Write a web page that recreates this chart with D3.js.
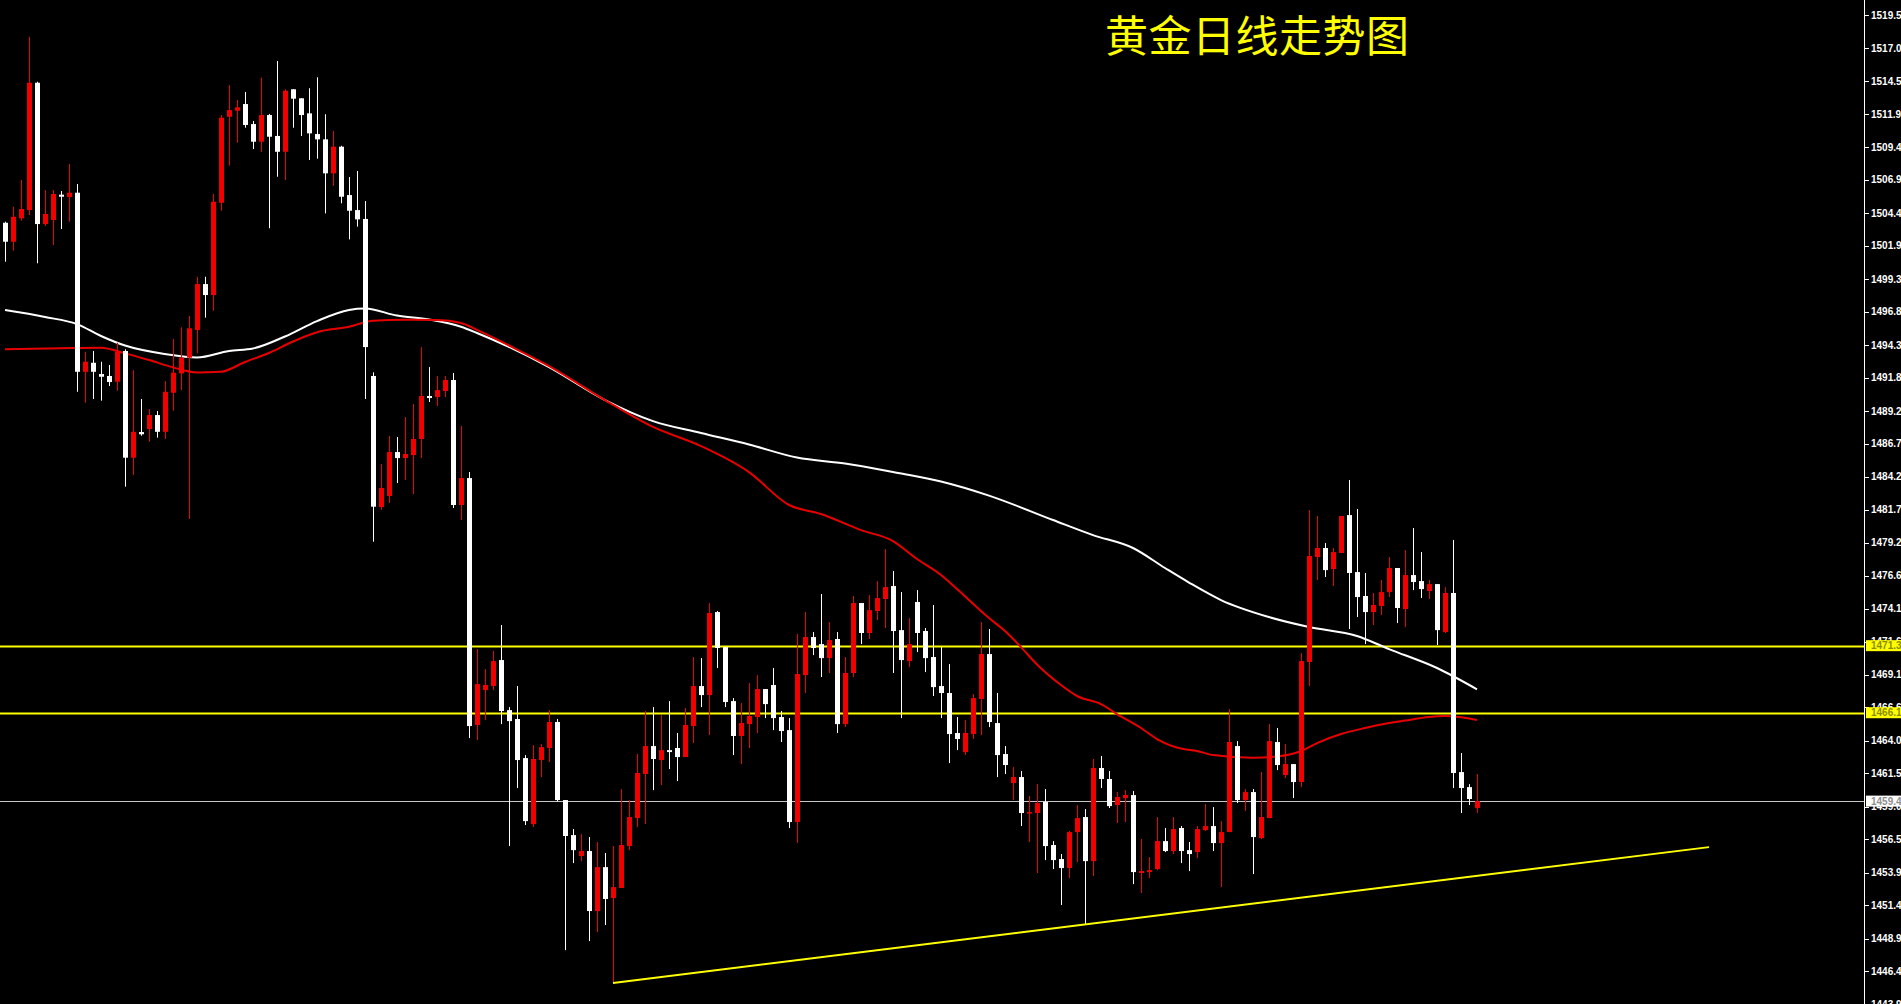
<!DOCTYPE html>
<html>
<head>
<meta charset="utf-8">
<script src="https://cdn.jsdelivr.net/npm/d3@7"></script>
<style>
  html, body { margin: 0; padding: 0; background: #000; overflow: hidden; }
  svg { display: block; }
</style>
</head>
<body>
<svg id="chart"></svg>
<script>
// daily gold candles, oldest first
const opens = [1503.66,1502.21,1504.00,1504.63,1514.37,1503.56,1503.87,1505.81,1505.63,1505.96,
  1492.26,1492.95,1492.09,1491.94,1491.50,1493.85,1485.69,1487.65,1487.88,1488.95,
  1487.67,1490.66,1492.14,1493.34,1495.45,1498.97,1498.13,1505.19,1511.77,1512.23,
  1512.74,1511.21,1509.86,1511.90,1510.30,1509.09,1513.87,1513.18,1512.03,1510.45,
  1510.04,1507.44,1509.48,1505.78,1504.63,1503.95,1491.94,1481.91,1482.76,1486.12,
  1485.66,1485.89,1487.12,1490.41,1490.33,1490.79,1491.63,1482.07,1484.13,1465.24,
  1467.91,1468.22,1470.21,1466.38,1465.70,1462.71,1457.66,1462.56,1463.48,1465.47,
  1459.50,1456.82,1455.22,1455.60,1451.01,1454.37,1452.00,1452.77,1455.98,1458.12,
  1461.49,1463.63,1462.56,1463.32,1463.48,1462.79,1465.16,1468.22,1467.53,1473.88,
  1471.20,1467.07,1464.40,1465.31,1465.85,1467.99,1468.30,1465.85,1464.85,1457.82,
  1469.06,1471.97,1471.43,1470.36,1471.82,1465.31,1469.22,1474.57,1472.28,1473.96,
  1474.88,1475.87,1472.50,1470.13,1474.65,1472.43,1470.44,1468.22,1467.69,1464.63,
  1463.17,1464.55,1467.23,1470.67,1465.39,1463.02,1460.80,1461.26,1458.51,1458.51,
  1459.35,1456.06,1454.99,1454.30,1457.05,1458.20,1454.83,1461.95,1461.11,1459.12,
  1459.65,1459.88,1453.92,1453.99,1454.22,1456.36,1455.60,1457.36,1455.67,1455.52,
  1457.20,1457.51,1456.21,1457.05,1463.63,1459.50,1460.11,1456.59,1458.12,1463.94,
  1461.41,1462.25,1460.88,1470.06,1478.09,1478.78,1477.17,1478.40,1481.30,1476.94,
  1475.11,1473.88,1474.34,1475.41,1477.25,1474.11,1476.71,1476.25,1475.49,1476.02,
  1472.35,1475.34,1461.64,1460.49,1458.89];
const highs = [1503.74,1504.89,1506.93,1517.89,1514.45,1506.16,1506.16,1506.09,1508.15,1506.62,
  1493.79,1493.85,1493.03,1492.78,1494.48,1493.98,1492.39,1490.18,1489.41,1489.26,
  1491.55,1494.77,1495.66,1496.53,1499.53,1499.53,1505.86,1511.90,1514.20,1513.05,
  1513.66,1511.44,1514.76,1511.98,1516.03,1513.87,1513.89,1513.18,1513.95,1514.79,
  1511.96,1510.68,1509.55,1507.16,1507.62,1505.32,1492.22,1485.20,1487.35,1487.27,
  1488.80,1489.79,1494.15,1492.62,1491.94,1491.94,1492.17,1488.11,1484.59,1471.05,
  1469.52,1470.90,1472.89,1466.61,1468.22,1462.94,1463.71,1463.78,1466.38,1465.70,
  1459.50,1457.28,1456.90,1456.67,1456.29,1455.45,1455.98,1460.34,1459.50,1463.02,
  1466.31,1466.61,1466.00,1467.07,1464.63,1466.54,1470.44,1470.36,1474.57,1473.96,
  1471.20,1467.30,1466.92,1468.45,1469.06,1467.99,1469.60,1466.31,1465.77,1472.20,
  1473.88,1472.35,1475.26,1473.12,1472.35,1470.44,1475.11,1474.57,1475.18,1476.25,
  1478.70,1477.02,1475.41,1473.42,1475.56,1472.66,1474.42,1471.20,1469.90,1465.85,
  1465.62,1467.61,1473.12,1472.58,1467.69,1463.63,1462.02,1461.72,1459.81,1460.72,
  1460.34,1456.36,1455.37,1457.13,1459.12,1458.81,1462.64,1462.87,1461.72,1460.11,
  1460.26,1460.19,1456.52,1455.14,1458.20,1457.36,1458.20,1457.51,1456.29,1457.51,
  1459.19,1458.96,1457.89,1466.46,1464.01,1460.34,1460.34,1461.64,1465.31,1465.01,
  1463.78,1462.25,1470.75,1481.68,1481.23,1479.16,1478.78,1481.23,1483.98,1481.76,
  1476.87,1475.34,1476.33,1478.09,1477.25,1478.62,1480.31,1478.47,1476.33,1476.02,
  1475.79,1479.39,1463.10,1460.72,1461.49];
const lows = [1500.68,1501.52,1503.82,1504.25,1500.56,1503.41,1501.96,1503.18,1503.74,1490.73,
  1489.89,1490.18,1490.05,1491.17,1490.81,1483.47,1484.36,1487.37,1486.91,1487.22,
  1487.12,1489.28,1490.86,1481.00,1493.67,1496.40,1496.93,1504.58,1508.02,1509.78,
  1510.93,1509.30,1509.09,1503.24,1507.18,1506.93,1510.93,1510.30,1508.46,1508.56,
  1504.38,1506.49,1505.15,1502.39,1503.36,1490.18,1479.26,1481.70,1482.22,1483.75,
  1483.98,1482.91,1485.66,1489.95,1489.64,1490.33,1481.84,1480.92,1464.24,1464.09,
  1465.62,1467.91,1465.31,1455.98,1460.42,1457.59,1457.43,1461.26,1462.41,1459.42,
  1448.02,1454.68,1454.83,1448.71,1449.40,1449.94,1445.50,1452.77,1455.67,1457.43,
  1457.66,1460.26,1460.65,1461.87,1460.95,1462.79,1463.86,1466.61,1464.47,1469.60,
  1466.61,1462.94,1462.25,1463.48,1464.63,1465.77,1464.85,1463.94,1457.36,1456.21,
  1467.69,1470.59,1468.91,1469.22,1464.63,1465.08,1468.91,1471.43,1471.82,1473.27,
  1472.66,1469.22,1465.77,1469.67,1470.82,1469.29,1467.46,1465.77,1462.33,1463.32,
  1462.94,1464.17,1464.47,1465.08,1461.26,1461.49,1459.50,1457.51,1456.29,1453.92,
  1454.91,1454.22,1451.47,1453.53,1454.76,1450.01,1453.69,1460.42,1458.89,1457.74,
  1457.82,1453.07,1452.39,1453.53,1454.14,1455.52,1455.37,1454.68,1454.07,1455.06,
  1457.13,1455.60,1452.84,1457.05,1459.27,1458.66,1453.84,1456.52,1458.12,1461.79,
  1461.18,1459.65,1460.49,1468.22,1476.33,1476.56,1475.87,1478.40,1472.58,1473.50,
  1471.43,1472.89,1473.65,1475.03,1473.04,1472.73,1475.56,1474.95,1474.88,1471.36,
  1472.28,1460.42,1458.51,1459.12,1458.51];
const closes = [1502.21,1504.12,1504.71,1514.37,1503.56,1504.33,1505.86,1505.65,1505.96,1492.26,
  1493.03,1492.26,1491.88,1491.48,1493.79,1485.69,1487.67,1487.48,1488.95,1487.67,
  1490.73,1492.19,1493.34,1495.59,1498.97,1498.13,1505.27,1511.70,1512.28,1512.49,
  1511.14,1509.86,1511.90,1510.24,1509.09,1513.76,1513.15,1511.90,1510.50,1510.04,
  1507.44,1509.48,1505.65,1504.58,1503.92,1494.15,1481.94,1483.37,1486.12,1485.66,
  1485.97,1487.12,1490.41,1490.25,1490.86,1491.63,1482.07,1484.13,1465.16,1468.37,
  1468.30,1470.13,1466.31,1465.54,1462.56,1457.89,1462.64,1463.55,1465.47,1459.50,
  1456.75,1455.67,1455.60,1451.01,1454.37,1451.93,1452.84,1456.06,1458.20,1461.57,
  1463.63,1462.64,1463.32,1463.17,1462.79,1465.24,1468.22,1467.53,1473.81,1471.13,
  1467.00,1464.40,1465.39,1465.93,1467.99,1466.84,1465.77,1464.78,1457.82,1469.14,
  1471.97,1471.13,1470.36,1471.74,1465.31,1469.22,1474.57,1472.28,1474.03,1474.95,
  1475.79,1472.43,1470.21,1471.43,1472.28,1470.36,1468.14,1467.69,1464.55,1464.17,
  1464.63,1467.30,1470.67,1465.47,1462.94,1462.18,1461.26,1458.51,1458.58,1459.27,
  1455.98,1454.91,1454.30,1457.05,1458.12,1454.83,1461.95,1461.11,1459.04,1459.73,
  1459.88,1453.99,1454.07,1454.14,1456.36,1455.60,1457.28,1455.60,1455.37,1457.28,
  1457.51,1456.21,1457.05,1463.94,1459.50,1460.11,1456.67,1458.20,1464.01,1462.18,
  1462.25,1460.88,1470.13,1478.17,1478.78,1477.09,1478.47,1481.23,1476.87,1475.03,
  1473.88,1474.42,1475.41,1477.25,1474.19,1476.71,1476.18,1475.64,1476.02,1472.50,
  1475.34,1461.57,1460.42,1459.58,1459.42];

// moving averages, read at a few bars and joined by a smooth line
const whiteMaBars = [0,5,9,12,15,20,24,28,31,35,39,43,45,49,53,57,59,68,75,81,
  87,93,99,105,111,117,123,131,136,141,145,148,152,158,163,169,173,179,184];
const whiteMa = [1496.98,1496.45,1495.91,1495.00,1494.27,1493.62,1493.35,1493.85,1494.04,1494.96,
  1496.14,1496.99,1497.10,1496.56,1496.26,1495.71,1495.23,1492.62,1490.10,1488.49,
  1487.58,1486.70,1485.70,1485.24,1484.59,1483.87,1482.79,1480.92,1479.77,1478.78,
  1477.25,1476.14,1474.80,1473.50,1472.74,1472.05,1471.05,1469.60,1467.97];
const redMaBars = [0,7,12,15,18,21,24,27,30,33,36,39,43,46,50,54,57,59,63,68,
  75,81,87,93,98,102,107,111,114,117,119,123,125,127,129,132,134,137,139,142,
  144,147,149,151,156,159,162,164,167,170,173,175,178,180,182,184];
const redMa = [1493.98,1494.06,1494.10,1493.67,1493.16,1492.60,1492.20,1492.26,1493.01,1493.70,
  1494.58,1495.29,1495.71,1496.17,1496.24,1496.22,1495.99,1495.46,1494.27,1492.70,
  1490.10,1488.04,1486.58,1484.59,1482.07,1481.38,1480.15,1479.31,1477.94,1476.71,
  1475.64,1473.42,1472.43,1471.20,1469.87,1468.30,1467.46,1466.84,1466.08,1465.01,
  1464.17,1463.44,1463.25,1462.94,1462.74,1462.83,1463.25,1463.86,1464.55,1465.01,
  1465.39,1465.58,1465.85,1465.93,1465.83,1465.62];

// price axis labels
const tickValues = [1519.55,1517.00,1514.50,1511.95,1509.45,1506.95,1504.40,1501.90,1499.35,1496.85,
  1494.30,1491.80,1489.25,1486.75,1484.25,1481.70,1479.20,1476.65,1474.15,1471.60,
  1469.10,1466.60,1464.05,1461.55,1459.00,1456.50,1453.95,1451.45,1448.90,1446.40,1443.90];

const levelLines = [1471.31, 1466.18];
const lastPrice = 1459.42;
const trendBars = [76, 213];
const trendPrices = [1445.50, 1455.90];

const titleText = "黄金日线走势图";

const width = 1901, height = 1004;
const axisX = 1864;

const svg = d3.select("#chart").attr("width", width).attr("height", height);
svg.append("rect").attr("width", width).attr("height", height).attr("fill", "#000");

const x = d3.scaleLinear().domain([0, 184]).range([5, 1477]);
const y = d3.scaleLinear().domain([1443.90, 1520.70]).range([height, 0]);

const candles = opens.map((o, i) => ({i: i, o: o, h: highs[i], l: lows[i], c: closes[i]}));
const colorOf = d => d.c > d.o ? "#f20000" : "#ffffff";

let plot = svg.append("g").attr("id", "plot");

// level lines
plot.selectAll("line.level").data(levelLines)
    .join("line")
    .attr("class", "level")
    .attr("x1", 0).attr("x2", axisX)
    .attr("y1", d => Math.round(y(d)) + 0.5).attr("y2", d => Math.round(y(d)) + 0.5)
    .attr("stroke", "#ffff00").attr("stroke-width", 2);

plot.append("line")
    .attr("x1", 0).attr("x2", axisX)
    .attr("y1", Math.round(y(lastPrice)) + 0.5).attr("y2", Math.round(y(lastPrice)) + 0.5)
    .attr("stroke", "#c8c8c8").attr("stroke-width", 1);

// moving averages
const maLine = d3.line().curve(d3.curveMonotoneX);
plot.append("path")
    .attr("d", maLine(whiteMaBars.map((b, k) => [x(b), y(whiteMa[k])])))
    .attr("fill", "none").attr("stroke", "#ffffff").attr("stroke-width", 2);
plot.append("path")
    .attr("d", maLine(redMaBars.map((b, k) => [x(b), y(redMa[k])])))
    .attr("fill", "none").attr("stroke", "#e80000").attr("stroke-width", 2);

// candles
let bars = plot.selectAll("g.candle").data(candles).join("g").attr("class", "candle");
bars.append("line")
    .attr("x1", d => Math.round(x(d.i)) + 0.5).attr("x2", d => Math.round(x(d.i)) + 0.5)
    .attr("y1", d => y(d.h)).attr("y2", d => y(d.l))
    .attr("stroke", colorOf).attr("stroke-width", 1);
bars.append("rect")
    .attr("x", d => Math.round(x(d.i)) - 2)
    .attr("width", 5)
    .attr("y", d => y(Math.max(d.o, d.c)))
    .attr("height", d => Math.max(1.5, Math.abs(y(d.o) - y(d.c))))
    .attr("fill", colorOf);

// trend line
plot.append("line")
    .attr("x1", x(trendBars[0])).attr("y1", y(trendPrices[0]))
    .attr("x2", x(trendBars[1])).attr("y2", y(trendPrices[1]))
    .attr("stroke", "#ffff00").attr("stroke-width", 2);

// price axis
let axisG = svg.append("g").attr("id", "priceAxis");
axisG.append("rect").attr("x", axisX + 1).attr("y", 0).attr("width", width - axisX).attr("height", height).attr("fill", "#000");
axisG.append("line")
    .attr("x1", axisX + 0.5).attr("x2", axisX + 0.5).attr("y1", 0).attr("y2", height)
    .attr("stroke", "#ffffff").attr("stroke-width", 1);
axisG.selectAll("line.tick").data(tickValues)
    .join("line")
    .attr("class", "tick")
    .attr("x1", axisX + 1).attr("x2", axisX + 5)
    .attr("y1", d => Math.round(y(d)) + 0.5).attr("y2", d => Math.round(y(d)) + 0.5)
    .attr("stroke", "#ffffff");
axisG.selectAll("text.tick").data(tickValues)
    .join("text")
    .attr("class", "tick")
    .attr("x", axisX + 7)
    .attr("y", d => y(d))
    .attr("dy", "0.35em")
    .attr("fill", "#ffffff")
    .style("font-family", "'Liberation Sans', Arial, sans-serif")
    .style("font-size", "10px")
    .style("font-weight", "bold")
    .text(d => d.toFixed(2));

// price tags for the level lines and the last price
const tags = levelLines.map(v => ({v: v, bg: "#ffff00", fg: "#8c8c00"}))
    .concat([{v: lastPrice, bg: "#ffffff", fg: "#909090"}]);
let tagG = axisG.selectAll("g.tag").data(tags).join("g").attr("class", "tag");
tagG.append("rect")
    .attr("x", axisX + 2).attr("y", d => y(d.v) - 5.5)
    .attr("width", width - axisX).attr("height", 11)
    .attr("fill", d => d.bg);
tagG.append("text")
    .attr("x", axisX + 7).attr("y", d => y(d.v)).attr("dy", "0.35em")
    .attr("fill", d => d.fg)
    .style("font-family", "'Liberation Sans', Arial, sans-serif")
    .style("font-size", "10px")
    .style("font-weight", "bold")
    .text(d => d.v.toFixed(2));

// title
svg.append("text")
    .attr("x", 1105).attr("y", 33)
    .attr("dominant-baseline", "central")
    .attr("fill", "#ffff00")
    .style("font-family", "'Noto Sans CJK SC', sans-serif")
    .style("font-size", "43px")
    .style("letter-spacing", "0.5px")
    .text(titleText);
</script>
</body>
</html>
